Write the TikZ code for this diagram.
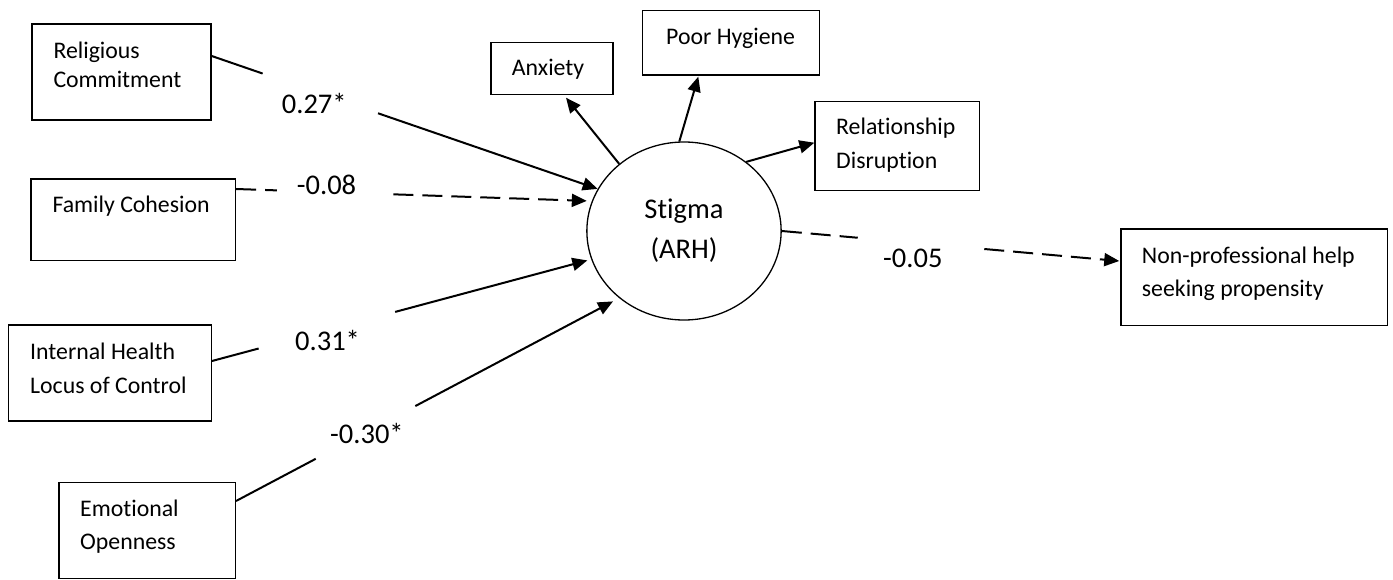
\documentclass[tikz,border=0pt]{standalone}
\usepackage{fontspec}
\setmainfont{Carlito}[Ligatures=CommonOff]
\usetikzlibrary{arrows.meta,shapes.geometric,calc}

% two stacked lines, baseline of the box = baseline of the first line
\newcommand\twolines[3]{\vtop{\baselineskip=#1\hbox{#2}\hbox{#3}}}

\begin{document}
\begin{tikzpicture}[x=1pt,y=-1pt,
  box/.style={draw,rectangle,line width=1.4pt,inner sep=0pt},
  boxtext/.style={anchor=base west,inner sep=0pt,font=\fontsize{23.8}{29}\selectfont},
  coef/.style={anchor=base west,inner sep=0pt,font=\fontsize{28.5}{34}\selectfont},
  conn/.style={line width=2pt},
  tip/.style={-{Triangle[length=15pt,width=13pt]}},
  dashline/.style={dash pattern=on 20pt off 9pt}
]
\fill[white] (0,0) rectangle (1393,580);
\useasboundingbox (0,0) rectangle (1393,580);

% predictors
\node[box,minimum width=179pt,minimum height=96pt] (rc) at (121.5,72.2) {};
\node[boxtext] (rctext) at (53.3,58.3) {\twolines{29pt}{Religious}{Commitment}};
\node[box,minimum width=204.3pt,minimum height=81.3pt] (fc) at (133.2,219.7) {};
\node[boxtext] (fctext) at (52.3,213) {Family Cohesion};
\node[box,minimum width=203pt,minimum height=96pt] (ih) at (109.8,373) {};
\node[boxtext] (ihtext) at (30,359) {\twolines{34.3pt}{Internal Health}{Locus of Control}};
\node[box,minimum width=176.3pt,minimum height=96pt] (eo) at (147.2,530.3) {};
\node[boxtext] (eotext) at (80,516.7) {\twolines{32.6pt}{Emotional}{Openness}};

% latent variable
\node[draw,ellipse,line width=1.3pt,inner sep=0pt,minimum width=194.3pt,minimum height=178pt,
      align=center,font=\fontsize{28.5}{40}\selectfont] (stig) at (684,231) {Stigma\\(ARH)};

% indicators and outcome
\node[box,minimum width=122pt,minimum height=52pt] (anx) at (552,68.7) {};
\node[boxtext] (anxtext) at (511.7,76) {Anxiety};
\node[box,minimum width=176.6pt,minimum height=64.3pt] (ph) at (731,42.8) {};
\node[boxtext] (phtext) at (666,45) {Poor Hygiene};
\node[box,minimum width=164.3pt,minimum height=89pt] (rel) at (897.2,146.2) {};
\node[boxtext] (reltext) at (836,135) {\twolines{33.3pt}{Relationship}{Disruption}};
\node[box,minimum width=266.7pt,minimum height=96.7pt] (np) at (1254.3,277.3) {};
\node[boxtext] (nptext) at (1141.7,263.3) {\twolines{33.4pt}{Non-professional help}{seeking propensity}};

% path end points
\coordinate (rcOut) at ($(rc.east)+(0,-16.2)$);
\coordinate (rcIn) at (stig.154);
\coordinate (fcOut) at ($(fc.east)+(0,-30.7)$);
\coordinate (fcIn) at (stig.162);
\coordinate (ihOut) at ($(ih.east)+(0,-12)$);
\coordinate (ihIn) at (stig.197);
\coordinate (eoOut) at ($(eo.east)+(0,-29.3)$);
\coordinate (eoIn) at (stig.226);
\coordinate (npOut) at (stig.east);
\coordinate (npIn) at ($(np.west)+(-1,-16.3)$);

% structural paths, broken around their coefficients
\draw[conn] (rcOut) -- ($(rcOut)!0.132!(rcIn)$);
\draw[conn,tip] ($(rcOut)!0.431!(rcIn)$) -- (rcIn);
\draw[conn,dashline] (fcOut) -- ($(fcOut)!0.115!(fcIn)$);
\draw[conn,dashline,tip,shorten >=5pt] ($(fcOut)!0.442!(fcIn)$) -- (fcIn);
\draw[conn] (ihOut) -- ($(ihOut)!0.123!(ihIn)$);
\draw[conn,tip,shorten >=4pt] ($(ihOut)!0.483!(ihIn)$) -- (ihIn);
\draw[conn] (eoOut) -- ($(eoOut)!0.208!(eoIn)$);
\draw[conn,tip,shorten >=7pt] ($(eoOut)!0.468!(eoIn)$) -- (eoIn);
\draw[conn,dashline] (npOut) -- ($(npOut)!0.225!(npIn)$);
\draw[conn,dashline,tip] ($(npOut)!0.60!(npIn)$) -- (npIn);

% measurement paths
\draw[conn,tip] (stig.134) -- ($(anx.south)+(14,2.3)$);
\draw[conn,tip] (stig.93) -- ($(ph.south)+(-32.7,1)$);
\draw[conn,tip] (stig.48) -- ($(rel.west)+(0,-3.5)$);

% coefficients
\node[coef] (c1) at (281.7,113.3) {0.27*};
\node[coef] (c2) at (296.7,194.5) {-0.08};
\node[coef] (c3) at (295,350) {0.31*};
\node[coef] (c4) at (330,443.3) {-0.30*};
\node[coef] (c5) at (883,267.3) {-0.05};
\end{tikzpicture}
\end{document}
